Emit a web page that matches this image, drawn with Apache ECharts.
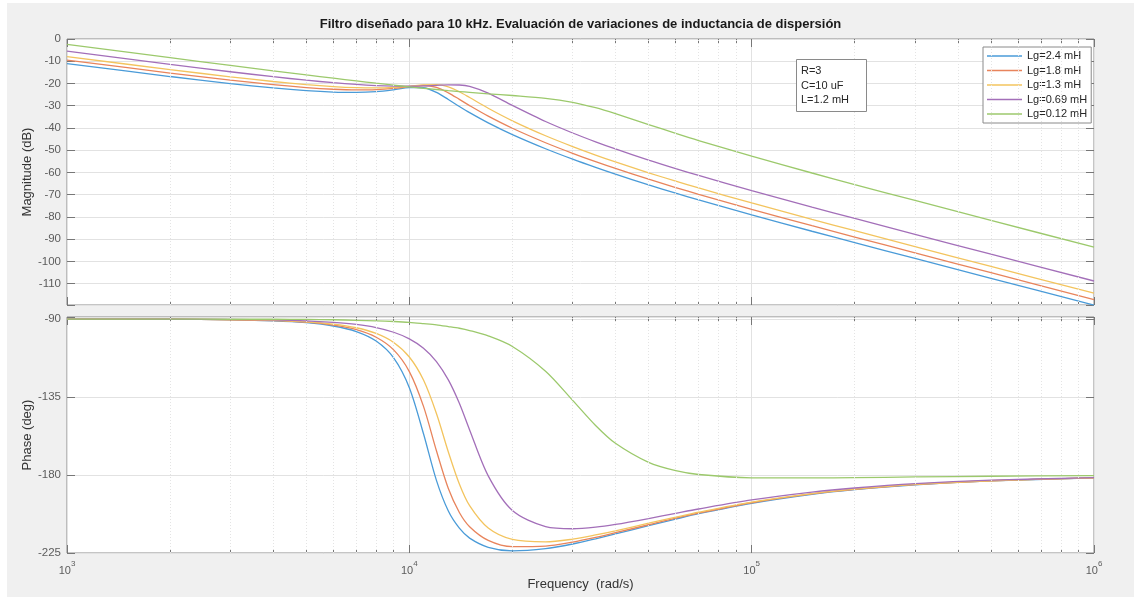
<!DOCTYPE html>
<html>
<head>
<meta charset="utf-8">
<script src="https://cdn.jsdelivr.net/npm/echarts@6/dist/echarts.min.js"></script>
<style>
html,body{margin:0;padding:0;background:#ffffff;}
#c{width:1134px;height:598px;}
</style>
</head>
<body>
<div id="c"></div>
<script>
// ---------------- data ----------------
const freq = [1000, 2000, 3000, 4000, 5000, 6000, 7000, 8000, 9000, 10000, 11000, 12000, 13000, 14000, 15000, 17000, 20000, 25000, 30000, 35000, 40000, 50000, 60000, 70000, 100000, 150000, 200000, 300000, 500000, 1000000];

const seriesNames = ['Lg=2.4 mH', 'Lg=1.8 mH', 'Lg=1.3 mH', 'Lg=0.69 mH', 'Lg=0.12 mH'];

// Magnitude (dB)
const magLg24  = [-11.06, -16.87, -20.03, -22.00, -23.23, -23.87, -24.01, -23.66, -22.84, -21.90, -21.92, -24.02, -27.20, -30.33, -33.11, -37.71, -42.98, -49.34, -54.03, -57.73, -60.78, -65.59, -69.32, -72.35, -79.09, -86.44, -91.55, -98.67, -107.59, -119.64];
const magLg18  = [-9.48, -15.31, -18.50, -20.53, -21.84, -22.60, -22.91, -22.78, -22.23, -21.43, -20.91, -21.76, -24.20, -27.14, -29.95, -34.69, -40.13, -46.64, -51.39, -55.13, -58.20, -63.04, -66.78, -69.83, -76.57, -83.93, -89.04, -96.16, -105.08, -117.14];
const magLg13  = [-7.91, -13.76, -17.00, -19.10, -20.51, -21.40, -21.88, -21.99, -21.75, -21.23, -20.62, -20.47, -21.53, -23.72, -26.31, -31.14, -36.79, -43.51, -48.37, -52.17, -55.27, -60.15, -63.91, -66.97, -73.73, -81.10, -86.21, -93.34, -102.26, -114.31];
const magLg069 = [-5.49, -11.40, -14.72, -16.95, -18.53, -19.65, -20.44, -20.95, -21.20, -21.24, -21.09, -20.83, -20.61, -20.68, -21.32, -24.33, -29.88, -37.10, -42.26, -46.23, -49.44, -54.45, -58.27, -61.37, -68.18, -75.57, -80.70, -87.83, -96.75, -108.81];
const magLg012 = [-2.40, -8.39, -11.87, -14.30, -16.16, -17.63, -18.85, -19.88, -20.75, -21.50, -22.15, -22.70, -23.20, -23.63, -24.00, -24.64, -25.41, -26.65, -28.46, -30.91, -33.58, -38.46, -42.42, -45.65, -52.71, -60.25, -65.43, -72.60, -81.55, -93.61];

// Phase (deg)
const phLg24  = [-90.0, -90.1, -90.4, -91.0, -92.1, -94.0, -97.2, -102.7, -112.4, -129.6, -156.2, -183.1, -200.8, -210.7, -216.4, -221.7, -223.8, -222.5, -219.8, -216.8, -214.0, -209.2, -205.4, -202.3, -196.3, -191.1, -188.4, -185.6, -183.4, -181.7];
const phLg18  = [-90.0, -90.1, -90.4, -90.9, -91.8, -93.5, -96.1, -100.5, -107.8, -120.3, -140.4, -166.0, -187.8, -201.6, -209.8, -217.7, -221.3, -221.0, -218.7, -216.0, -213.3, -208.7, -204.9, -202.0, -196.0, -190.9, -188.3, -185.5, -183.3, -181.7];
const phLg13  = [-90.0, -90.1, -90.3, -90.8, -91.6, -92.9, -95.0, -98.3, -103.5, -111.9, -125.2, -144.5, -166.7, -185.2, -197.7, -210.6, -217.2, -218.6, -217.0, -214.6, -212.2, -207.8, -204.3, -201.4, -195.6, -190.7, -188.1, -185.4, -183.3, -181.6];
const phLg069 = [-90.0, -90.1, -90.2, -90.5, -91.0, -91.9, -93.1, -94.9, -97.6, -101.4, -106.8, -114.5, -125.1, -138.6, -154.0, -180.5, -200.5, -209.8, -211.0, -210.1, -208.5, -205.1, -202.1, -199.6, -194.4, -189.9, -187.5, -185.0, -183.0, -181.5];
const phLg012 = [-90.0, -90.0, -90.1, -90.1, -90.2, -90.4, -90.7, -91.0, -91.4, -91.9, -92.6, -93.3, -94.3, -95.3, -96.6, -99.7, -105.8, -120.1, -136.9, -151.4, -161.7, -172.7, -177.5, -179.7, -181.6, -181.7, -181.5, -181.1, -180.7, -180.3];

// Tick labels / gridline values
const xMinorTicks = [2000, 3000, 4000, 5000, 6000, 7000, 8000, 9000,
                     20000, 30000, 40000, 50000, 60000, 70000, 80000, 90000,
                     200000, 300000, 400000, 500000, 600000, 700000, 800000, 900000];
const magTicks = [0, -10, -20, -30, -40, -50, -60, -70, -80, -90, -100, -110];
const phaseTicks = [-90, -135, -180, -225];

const titleText = 'Filtro diseñado para 10 kHz. Evaluación de variaciones de inductancia de dispersión';
const noteText = 'R=3\nC=10 uF\nL=1.2 mH';

// ---------------- chart ----------------
const COLORS = ['#4a9bd8', '#e8845c', '#f3c45e', '#a36fb9', '#9cc96c'];
const FONT = '"Liberation Sans", Arial, Helvetica, sans-serif';
const TICK_COLOR = '#777777';
const LABEL_COLOR = '#5c5c5c';
const GRIDLINE = '#e2e2e2';

const magSets = [magLg24, magLg18, magLg13, magLg069, magLg012];
const phSets = [phLg24, phLg18, phLg13, phLg069, phLg012];

function logX(gridIndex, position, extra) {
  return Object.assign({
    type: 'log', logBase: 10, gridIndex: gridIndex, position: position,
    min: 1000, max: 1000000,
    axisLine: {show: false, onZero: false},
    axisTick: {show: false},
    axisLabel: {show: false},
    splitLine: {show: false},
    minorTick: {show: false},
    minorSplitLine: {show: false}
  }, extra || {});
}
const majorTick = {show: true, inside: true, length: 8, lineStyle: {color: TICK_COLOR, width: 1}};
const minorTick = {show: true, inside: true, length: 4, customValues: xMinorTicks, lineStyle: {color: TICK_COLOR, width: 1}};
const majorSplit = {show: true, lineStyle: {color: GRIDLINE, width: 1, type: 'solid'}};

function isTick(list, v) { return list.some(t => Math.abs(t - v) < 1e-6); }

const option = {
  animation: false,
  backgroundColor: '#ffffff',
  textStyle: {fontFamily: FONT},
  graphic: [
    {type: 'rect', shape: {x: 7, y: 3, width: 1127, height: 594}, style: {fill: '#f0f0f0'}, z: -1, silent: true},
    {type: 'text', x: 580.5, y: 24, z: 10, silent: true,
     style: {text: titleText, font: 'bold 13px ' + FONT, fill: '#1a1a1a',
             align: 'center', verticalAlign: 'middle', textAlign: 'center', textVerticalAlign: 'middle'}}
  ],
  title: [{
    text: noteText, left: 796, top: 59, padding: [5, 18, 4, 5],
    backgroundColor: '#ffffff', borderColor: '#8a8a8a', borderWidth: 1,
    textStyle: {fontFamily: FONT, fontSize: 11, fontWeight: 'normal', color: '#262626', lineHeight: 14.5}
  }],
  legend: {
    data: seriesNames, orient: 'vertical', left: 983, top: 47,
    backgroundColor: '#ffffff', borderColor: '#8a8a8a', borderWidth: 1, borderRadius: 0,
    padding: [3, 4, 3, 4], itemWidth: 35, itemHeight: 1.4, itemGap: 2.5, icon: 'rect',
    selectedMode: false,
    textStyle: {fontFamily: FONT, fontSize: 11, color: '#262626', lineHeight: 12}
  },
  grid: [
    {show: true, left: 67, top: 39, width: 1027, height: 266, backgroundColor: '#ffffff',
     borderColor: '#8a8a8a', borderWidth: 1, containLabel: false, outerBoundsMode: 'none'},
    {show: true, left: 67, top: 317, width: 1027, height: 236, backgroundColor: '#ffffff',
     borderColor: '#8a8a8a', borderWidth: 1, containLabel: false, outerBoundsMode: 'none'}
  ],
  xAxis: [
    logX(0, 'bottom', {axisTick: majorTick, splitLine: majorSplit}),
    logX(0, 'top', {axisTick: majorTick}),
    logX(0, 'bottom', {axisTick: minorTick}),
    logX(0, 'top', {axisTick: minorTick}),
    logX(1, 'bottom', {
      axisTick: majorTick, splitLine: majorSplit,
      axisLabel: {
        show: true, margin: 7,
        formatter: v => '{b|10}{s|' + Math.round(Math.log10(v)) + '}',
        rich: {
          b: {fontFamily: FONT, fontSize: 11, color: LABEL_COLOR, lineHeight: 16, verticalAlign: 'bottom'},
          s: {fontFamily: FONT, fontSize: 8, color: LABEL_COLOR, lineHeight: 16, verticalAlign: 'top'}
        }
      },
      name: 'Frequency  (rad/s)', nameLocation: 'middle', nameGap: 25, nameMoveOverlap: false,
      nameTextStyle: {fontFamily: FONT, fontSize: 13, color: '#333333'}
    }),
    logX(1, 'top', {axisTick: majorTick}),
    logX(1, 'bottom', {axisTick: minorTick}),
    logX(1, 'top', {axisTick: minorTick})
  ],
  yAxis: [
    {type: 'value', gridIndex: 0, position: 'left', min: -119.6, max: 0, splitNumber: 12,
     axisLine: {show: false, onZero: false}, axisTick: majorTick,
     splitLine: majorSplit,
     axisLabel: {color: LABEL_COLOR, fontSize: 11.5, fontFamily: FONT, margin: 6,
                 formatter: v => isTick(magTicks, v) ? String(Math.round(v)) : ''},
     name: 'Magnitude (dB)', nameLocation: 'middle', nameGap: 33, nameRotate: 90, nameMoveOverlap: false,
     nameTextStyle: {fontFamily: FONT, fontSize: 13, color: '#333333'}},
    {type: 'value', gridIndex: 0, position: 'right', min: -119.6, max: 0, splitNumber: 12,
     axisLine: {show: false, onZero: false}, axisTick: majorTick,
     splitLine: {show: false}, axisLabel: {show: false}},
    {type: 'value', gridIndex: 1, position: 'left', min: -225, max: -88.8, interval: 45,
     axisLine: {show: false, onZero: false}, axisTick: majorTick,
     splitLine: majorSplit,
     axisLabel: {color: LABEL_COLOR, fontSize: 11.5, fontFamily: FONT, margin: 6,
                 formatter: v => isTick(phaseTicks, v) ? String(Math.round(v)) : ''},
     name: 'Phase (deg)', nameLocation: 'middle', nameGap: 33, nameRotate: 90, nameMoveOverlap: false,
     nameTextStyle: {fontFamily: FONT, fontSize: 13, color: '#333333'}},
    {type: 'value', gridIndex: 1, position: 'right', min: -225, max: -88.8, interval: 45,
     axisLine: {show: false, onZero: false}, axisTick: majorTick,
     splitLine: {show: false}, axisLabel: {show: false}}
  ],
  series: []
};

// minor (dotted) vertical grid lines, one helper per panel
[[0, 0], [4, 2]].forEach(([xi, yi]) => {
  option.series.push({
    type: 'line', xAxisIndex: xi, yAxisIndex: yi, data: [], z: 1, silent: true,
    markLine: {
      silent: true, symbol: ['none', 'none'], animation: false,
      label: {show: false}, emphasis: {disabled: true},
      lineStyle: {color: '#e4e4e4', width: 1, type: [1, 2]},
      data: xMinorTicks.map(v => ({xAxis: v}))
    }
  });
});

seriesNames.forEach((name, i) => {
  option.series.push({
    name: name, type: 'line', xAxisIndex: 0, yAxisIndex: 0,
    data: freq.map((f, k) => [f, magSets[i][k]]),
    symbol: 'none', smooth: 0.3, z: 3,
    lineStyle: {width: 1.3, color: COLORS[i]}, itemStyle: {color: COLORS[i]}
  });
});
seriesNames.forEach((name, i) => {
  option.series.push({
    name: name, type: 'line', xAxisIndex: 4, yAxisIndex: 2,
    data: freq.map((f, k) => [f, phSets[i][k]]),
    symbol: 'none', smooth: 0.3, z: 3,
    lineStyle: {width: 1.3, color: COLORS[i]}, itemStyle: {color: COLORS[i]}
  });
});

const chart = echarts.init(document.getElementById('c'), null, {renderer: 'canvas'});
chart.setOption(option);
</script>
</body>
</html>
